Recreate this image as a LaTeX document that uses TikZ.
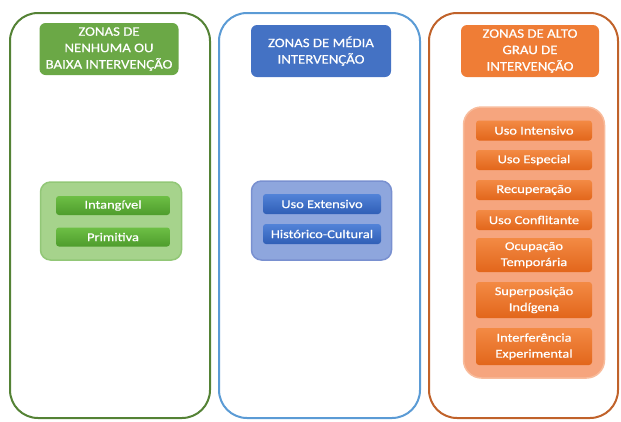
\documentclass[tikz,border=0pt]{standalone}
\usepackage{fontspec}
\setmainfont{Carlito}
\newfontfamily\headfont[FakeStretch=1.14,FakeBold=0.6]{Carlito}
\newfontfamily\itemfont[FakeStretch=1.2,FakeBold=0.6]{Carlito}
\definecolor{gdark}{HTML}{548235}
\definecolor{ghead}{HTML}{6BA846}
\definecolor{ggrp}{HTML}{A6D38C}
\definecolor{ggrpb}{HTML}{92C777}
\definecolor{gtop}{HTML}{6DBF45}
\definecolor{gbot}{HTML}{4E9C2C}
\definecolor{bdark}{HTML}{5B9BD5}
\definecolor{bhead}{HTML}{4472C4}
\definecolor{bgrp}{HTML}{8EA6DD}
\definecolor{bgrpb}{HTML}{7990D0}
\definecolor{btop}{HTML}{5283D8}
\definecolor{bbot}{HTML}{2F5EB6}
\definecolor{odark}{HTML}{C0622A}
\definecolor{ohead}{HTML}{EF7D36}
\definecolor{ogrp}{HTML}{F6A57E}
\definecolor{ogrpb}{HTML}{F8BC9C}
\definecolor{otop}{HTML}{F38A44}
\definecolor{obot}{HTML}{E2661B}
\tikzset{
  outerbox/.style={draw, line width=2pt, rounded corners=28pt, inner sep=0pt},
  headbox/.style={rounded corners=6pt, text=white, align=center, inner sep=0pt, font=\headfont\fontsize{13}{16.4}\selectfont},
  grpbox/.style={line width=1.5pt, inner sep=0pt},
  itembox/.style={rounded corners=3pt, text=white, align=center, inner sep=0pt, font=\itemfont\fontsize{12}{16}\selectfont},
  gitem/.style={itembox, top color=gtop, bottom color=gbot},
  bitem/.style={itembox, top color=btop, bottom color=bbot},
  oitem/.style={itembox, top color=otop, bottom color=obot},
}
\begin{document}
\begin{tikzpicture}[x=1pt,y=-1pt]
\useasboundingbox (0,0) rectangle (621,421);
% outer boxes
\node[outerbox, draw=gdark, minimum width=200, minimum height=405] (G) at (110,215.5) {};
\node[outerbox, draw=bdark, minimum width=201, minimum height=405] (B) at (319.5,215.5) {};
\node[outerbox, draw=odark, minimum width=189, minimum height=405] (O) at (523.5,215.5) {};
% headers
\node[headbox, fill=ghead, minimum width=139, minimum height=52] (GH) at (109,49) {ZONAS DE\\NENHUMA OU\\BAIXA INTERVENÇÃO};
\node[headbox, fill=bhead, minimum width=140, minimum height=52] (BH) at (321,51) {ZONAS DE MÉDIA\\INTERVENÇÃO};
\node[headbox, fill=ohead, minimum width=138, minimum height=52] (OH) at (530,51) {ZONAS DE ALTO\\GRAU DE\\INTERVENÇÃO};
% groups
\node[grpbox, rounded corners=10pt, fill=ggrp, draw=ggrpb, minimum width=141, minimum height=78] (GG) at (111,221) {};
\node[grpbox, rounded corners=10pt, fill=bgrp, draw=bgrpb, minimum width=140, minimum height=79] (BG) at (321.5,220.5) {};
\node[grpbox, rounded corners=18pt, fill=ogrp, draw=ogrpb, minimum width=141, minimum height=271] (OG) at (534,242.5) {};
% green items
\node[gitem, minimum width=114, minimum height=19] (g1) at (113,205.5) {Intangível};
\node[gitem, minimum width=114, minimum height=19] (g2) at (113,237) {Primitiva};
% blue items
\node[bitem, minimum width=118, minimum height=20] (b1) at (322,204) {Uso Extensivo};
\node[bitem, minimum width=118, minimum height=20] (b2) at (322,234) {Histórico-Cultural};
% orange items
\node[oitem, minimum width=116, minimum height=20] (o1) at (534,130.5) {Uso Intensivo};
\node[oitem, minimum width=116, minimum height=20] (o2) at (534,160) {Uso Especial};
\node[oitem, minimum width=116, minimum height=20] (o3) at (534,190) {Recuperação};
\node[oitem, minimum width=116, minimum height=20] (o4) at (534,220) {Uso Conflitante};
\node[oitem, minimum width=116, minimum height=34] (o5) at (534,255) {Ocupação\\Temporária};
\node[oitem, minimum width=116, minimum height=36] (o6) at (534,300) {Superposição\\Indígena};
\node[oitem, minimum width=116, minimum height=37] (o7) at (534,346.5) {Interferência\\Experimental};
\end{tikzpicture}
\end{document}
